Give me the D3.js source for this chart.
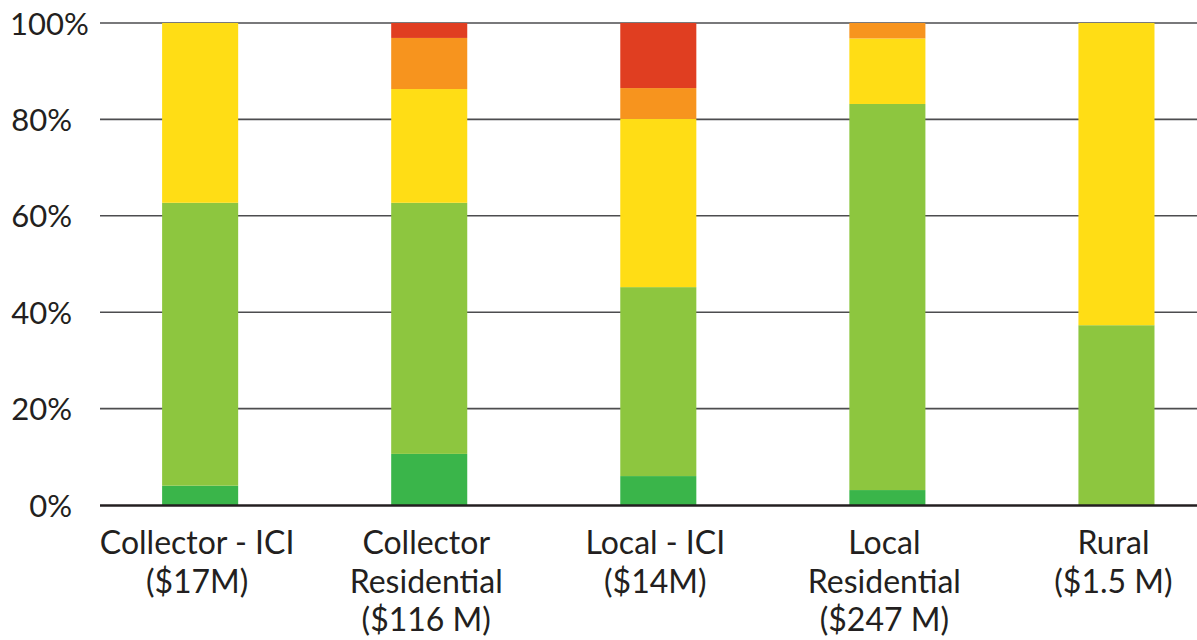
<!DOCTYPE html>
<html>
<head>
<meta charset="utf-8">
<script src="https://cdn.jsdelivr.net/npm/d3@7/dist/d3.min.js"></script>
<style>
  html, body { margin: 0; padding: 0; background: #fff; }
  svg { display: block; }
  text { font-family: Lato, "Open Sans", sans-serif; fill: #231F20; }
</style>
</head>
<body>
<svg id="chart" width="1197" height="640"></svg>
<script>
// ---- data ----
const categories = [
  ["Collector - ICI", "($17M)"],
  ["Collector", "Residential", "($116 M)"],
  ["Local - ICI", "($14M)"],
  ["Local", "Residential", "($247 M)"],
  ["Rural", "($1.5 M)"]
];
const seriesNames = ["darkGreen", "lightGreen", "yellow", "orange", "red"];
const darkGreen  = [4.0, 10.6, 6.0, 3.1, 0];
const lightGreen = [58.7, 52.1, 39.2, 80.1, 37.3];
const yellow     = [37.3, 23.6, 34.9, 13.6, 62.7];
const orange     = [0, 10.6, 6.4, 3.2, 0];
const red        = [0, 3.1, 13.5, 0, 0];
const yTicks = [0, 20, 40, 60, 80, 100];
const yTickLabels = ["0%", "20%", "40%", "60%", "80%", "100%"];
const colors = ["#3AB54A", "#8DC63F", "#FFDD15", "#F7941E", "#E03E21"];

// ---- layout ----
const svg = d3.select("#chart");
const gridX0 = 100, gridX1 = 1197;
const y = d3.scaleLinear().domain([0, 100]).range([505, 23]);
const x = d3.scaleBand()
  .domain(d3.range(categories.length))
  .range([85.6, 1231])
  .paddingInner(0.668)
  .paddingOuter(0.334);

const rows = categories.map((c, i) => {
  const r = { idx: i };
  seriesNames.forEach((s, k) => { r[s] = [darkGreen, lightGreen, yellow, orange, red][k][i]; });
  return r;
});
const stack = d3.stack().keys(seriesNames)(rows);

// gridlines
const grid = svg.append("g");
grid.selectAll("line").data(yTicks.filter(t => t !== 0)).join("line")
  .attr("x1", gridX0).attr("x2", gridX1)
  .attr("y1", d => y(d)).attr("y2", d => y(d))
  .attr("stroke", "#4D4D4F").attr("stroke-width", 1.6);

// bars
svg.append("g").selectAll("g").data(stack).join("g")
  .attr("fill", (d, i) => colors[i])
  .selectAll("rect").data(d => d).join("rect")
  .attr("x", d => x(d.data.idx))
  .attr("width", x.bandwidth())
  .attr("y", d => y(d[1]))
  .attr("height", d => Math.max(0, y(d[0]) - y(d[1])));

// baseline
svg.append("line")
  .attr("x1", gridX0).attr("x2", gridX1)
  .attr("y1", y(0) + 0.5).attr("y2", y(0) + 0.5)
  .attr("stroke", "#231F20").attr("stroke-width", 2.4);

// y axis labels
const yAxis = d3.axisLeft(y).tickValues(yTicks)
  .tickFormat((d, i) => yTickLabels[i]).tickSize(0).tickPadding(0);
const ya = svg.append("g").attr("transform", "translate(72,0)").call(yAxis);
ya.select(".domain").remove();
ya.selectAll("text")
  .attr("font-family", "Lato, 'Open Sans', sans-serif")
  .attr("font-size", 31).attr("fill", "#231F20")
  .attr("dy", "0.36em");
ya.selectAll("text").each(function() {
  const b = this.getBBox();
  const absX = 72 + b.x;
  if (absX < 10) {
    d3.select(this).attr("text-anchor", "start").attr("x", 10 - 72);
  }
});

// category labels
const xl = svg.append("g");
categories.forEach((lines, i) => {
  const cx = x(i) + x.bandwidth() / 2 - 3;
  const t = xl.append("text")
    .attr("text-anchor", "middle")
    .attr("font-size", 32)
    .attr("x", cx);
  lines.forEach((ln, j) => {
    t.append("tspan").attr("x", cx)
      .attr("y", 554 + j * 38.5).text(ln);
  });
});
</script>
</body>
</html>
